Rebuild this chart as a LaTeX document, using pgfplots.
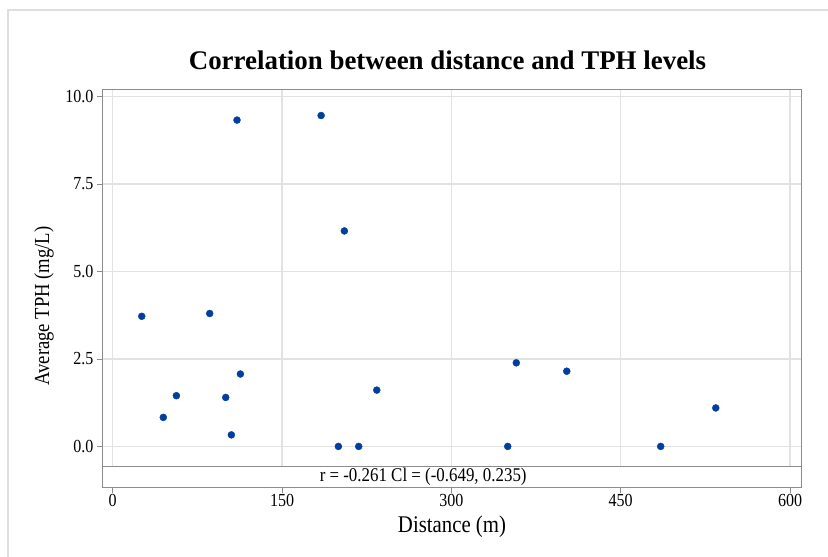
\documentclass[border=0pt]{standalone}
\usepackage{fontspec}
\setmainfont{Liberation Serif}
\newfontfamily\cond{Liberation Serif}[FakeStretch=0.87]
\usepackage{pgfplots}
\pgfplotsset{compat=1.18}
\definecolor{dotblue}{RGB}{0,63,160}
\definecolor{framegray}{RGB}{140,140,140}
\definecolor{gridgray}{RGB}{226,226,226}
\definecolor{outergray}{RGB}{222,222,222}
\pgfplotstableread{
x y
25.7 3.72
44.8 0.83
56.4 1.45
85.9 3.80
100.1 1.40
105.1 0.33
110.1 9.33
113.1 2.07
184.6 9.46
199.9 0.00
205.2 6.16
217.9 0.00
233.9 1.61
349.9 0.00
357.5 2.39
402.2 2.15
485.4 0.00
534.2 1.10
}\tphdata
\begin{document}
\begin{tikzpicture}[x=1bp,y=1bp]
\useasboundingbox (0,0) rectangle (828,557);
\draw[outergray, line width=2bp] (7.5,0) -- (7.5,546.5) -- (828,546.5);
\begin{axis}[
  at={(102bp,69.3bp)}, anchor=south west,
  scale only axis, width=699bp, height=398.4bp,
  xmin=-9.5, xmax=609.7, ymin=-1.18, ymax=10.21,
  xtick={0,150,...,600}, ytick={0,2.5,5,7.5,10},
  grid=major, major grid style={gridgray, line width=1.4bp},
  axis line style={framegray, line width=1bp},
  tick style={framegray, line width=0.8bp},
  tick align=outside, major tick length=5bp,
  xtick pos=left, ytick pos=left,
  /pgf/number format/assume math mode=true,
  yticklabel style={/pgf/number format/.cd, fixed, fixed zerofill, precision=1, /tikz/.cd, font=\cond\fontsize{18.5}{18.5}\selectfont},
  xticklabel style={font=\cond\fontsize{18.5}{18.5}\selectfont, yshift=1.5bp},
  clip=false,
]
\addplot[only marks, mark=*, mark size=3.5bp, mark options={draw=dotblue, fill=dotblue}] table[x=x, y=y] {\tphdata};
\fill[white] (axis cs:-9.5,-1.18) rectangle (axis cs:609.7,-0.584);
\draw[framegray, line width=1bp] (axis cs:-9.5,-0.584) -- (axis cs:609.7,-0.584);
\draw[framegray, line width=1bp] (rel axis cs:0,0) rectangle (rel axis cs:1,1);
\node[font=\cond\fontsize{19.5}{19.5}\selectfont] at (axis cs:275,-0.88) {r = -0.261 Cl = (-0.649, 0.235)};
\end{axis}
\node[font=\bfseries\fontsize{27}{27}\selectfont] at (447.5,497) {Correlation between distance and TPH levels};
\node[rotate=90, font=\cond\fontsize{21.5}{21.5}\selectfont] at (44,251) {Average TPH (mg/L)};
\node[font=\cond\fontsize{24}{24}\selectfont] at (452,30.5) {Distance (m)};
\end{tikzpicture}
\end{document}
